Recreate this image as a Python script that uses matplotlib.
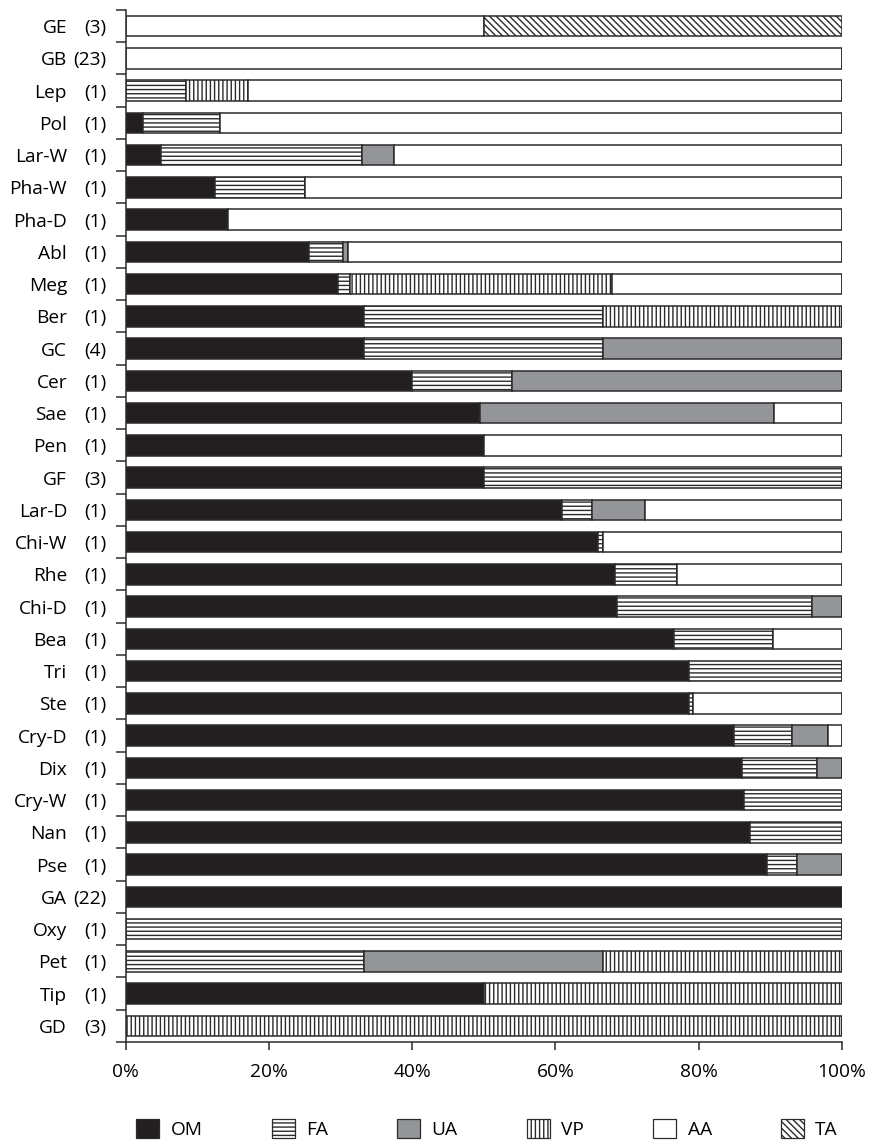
import matplotlib
matplotlib.use("Agg")
import matplotlib.pyplot as plt
from matplotlib.patches import Patch
import numpy as np

# grupos (de cima para baixo) e número de espécies
grupos = ["GE", "GB", "Lep", "Pol", "Lar-W", "Pha-W", "Pha-D", "Abl", "Meg", "Ber",
          "GC", "Cer", "Sae", "Pen", "GF", "Lar-D", "Chi-W", "Rhe", "Chi-D", "Bea",
          "Tri", "Ste", "Cry-D", "Dix", "Cry-W", "Nan", "Pse", "GA", "Oxy", "Pet",
          "Tip", "GD"]
n_especies = [3, 23, 1, 1, 1, 1, 1, 1, 1, 1,
              4, 1, 1, 1, 3, 1, 1, 1, 1, 1,
              1, 1, 1, 1, 1, 1, 1, 22, 1, 1,
              1, 3]

# porcentagens por categoria alimentar
OM = [0, 0, 0, 2.5, 4.9, 12.5, 14.3, 25.6, 29.7, 33.3,
      33.3, 40.0, 49.5, 50.0, 50.0, 61.0, 66.0, 68.4, 68.6, 76.6,
      78.6, 78.6, 84.9, 86.1, 86.4, 87.2, 89.6, 100, 0, 0,
      50.0, 0]
FA = [0, 0, 8.5, 10.7, 28.1, 12.5, 0, 4.8, 1.6, 33.3,
      33.3, 14.0, 0, 0, 50.0, 4.1, 0.7, 8.6, 27.3, 13.8,
      21.4, 0.6, 8.1, 10.4, 13.6, 12.8, 4.1, 0, 100, 33.3,
      0, 0]
UA = [0, 0, 0, 0, 4.5, 0, 0, 0.6, 0, 0,
      33.4, 46.0, 41.0, 0, 0, 7.4, 0, 0, 4.1, 0,
      0, 0, 5.0, 3.5, 0, 0, 6.3, 0, 0, 33.3,
      0, 0]
VP = [0, 0, 8.6, 0, 0, 0, 0, 0, 36.6, 33.4,
      0, 0, 0, 0, 0, 0, 0, 0, 0, 0,
      0, 0, 0, 0, 0, 0, 0, 0, 0, 33.4,
      50.0, 100]
AA = [50.0, 100, 82.9, 86.8, 62.5, 75.0, 85.7, 69.0, 32.1, 0,
      0, 0, 9.5, 50.0, 0, 27.5, 33.3, 23.0, 0, 9.6,
      0, 20.8, 2.0, 0, 0, 0, 0, 0, 0, 0,
      0, 0]
TA = [50.0, 0, 0, 0, 0, 0, 0, 0, 0, 0,
      0, 0, 0, 0, 0, 0, 0, 0, 0, 0,
      0, 0, 0, 0, 0, 0, 0, 0, 0, 0,
      0, 0]

categorias = ["OM", "FA", "UA", "VP", "AA", "TA"]
valores = [OM, FA, UA, VP, AA, TA]
cores = ["#231f20", "white", "#939598", "white", "white", "white"]
hachuras = [None, "----", None, "||||", None, "\\\\\\\\\\"]

plt.rcParams["font.family"] = ["Open Sans", "DejaVu Sans"]
plt.rcParams["hatch.linewidth"] = 1.0

fig = plt.figure(figsize=(8.76, 11.45), dpi=100)
ax = fig.add_axes([0.1433, 0.090, 0.8177, 0.9013])

y = np.arange(len(grupos))
esquerda = np.zeros(len(grupos))
for cat, val, cor, hach in zip(categorias, valores, cores, hachuras):
    val = np.array(val)
    ax.barh(y, val, left=esquerda, height=0.64, color=cor, hatch=hach,
            edgecolor="#2b2b2b", linewidth=1.1, label=cat)
    esquerda += val

ax.set_xlim(0, 100)
ax.set_ylim(len(grupos) - 0.5, -0.5)

# rótulos em duas colunas: número de espécies como tick, nome do grupo à esquerda
ax.set_yticks(y)
ax.set_yticklabels([f"({n})" for n in n_especies], fontsize=13.8)
for yi, g in zip(y, grupos):
    ax.text(-0.0816, yi, g, transform=ax.get_yaxis_transform(), ha="right",
            va="center_baseline", fontsize=13.8)
ax.set_yticks(np.arange(-0.5, len(grupos)), minor=True)
ax.tick_params(axis="y", which="major", length=0, pad=14)
ax.tick_params(axis="y", which="minor", length=7.5, width=1.1, color="#2b2b2b")

ax.set_xticks([0, 20, 40, 60, 80, 100])
ax.set_xticklabels(["0%", "20%", "40%", "60%", "80%", "100%"], fontsize=13.8)
ax.tick_params(axis="x", length=6, width=1.1, color="#2b2b2b", pad=9)

for lado in ["top", "right"]:
    ax.spines[lado].set_visible(False)
for lado in ["left", "bottom"]:
    ax.spines[lado].set_linewidth(1.1)
    ax.spines[lado].set_color("#2b2b2b")

# legenda embaixo
handles = [Patch(facecolor=c, edgecolor="#2b2b2b", hatch=h, linewidth=0.9)
           for c, h in zip(cores, hachuras)]
fig.legend(handles, categorias, loc="center", bbox_to_anchor=(0.556, 0.014),
           ncol=6, frameon=False, fontsize=13.8, handlelength=1.2, handleheight=1.2,
           handletextpad=0.6, columnspacing=3.6)

fig.savefig("out.png", dpi=100)
